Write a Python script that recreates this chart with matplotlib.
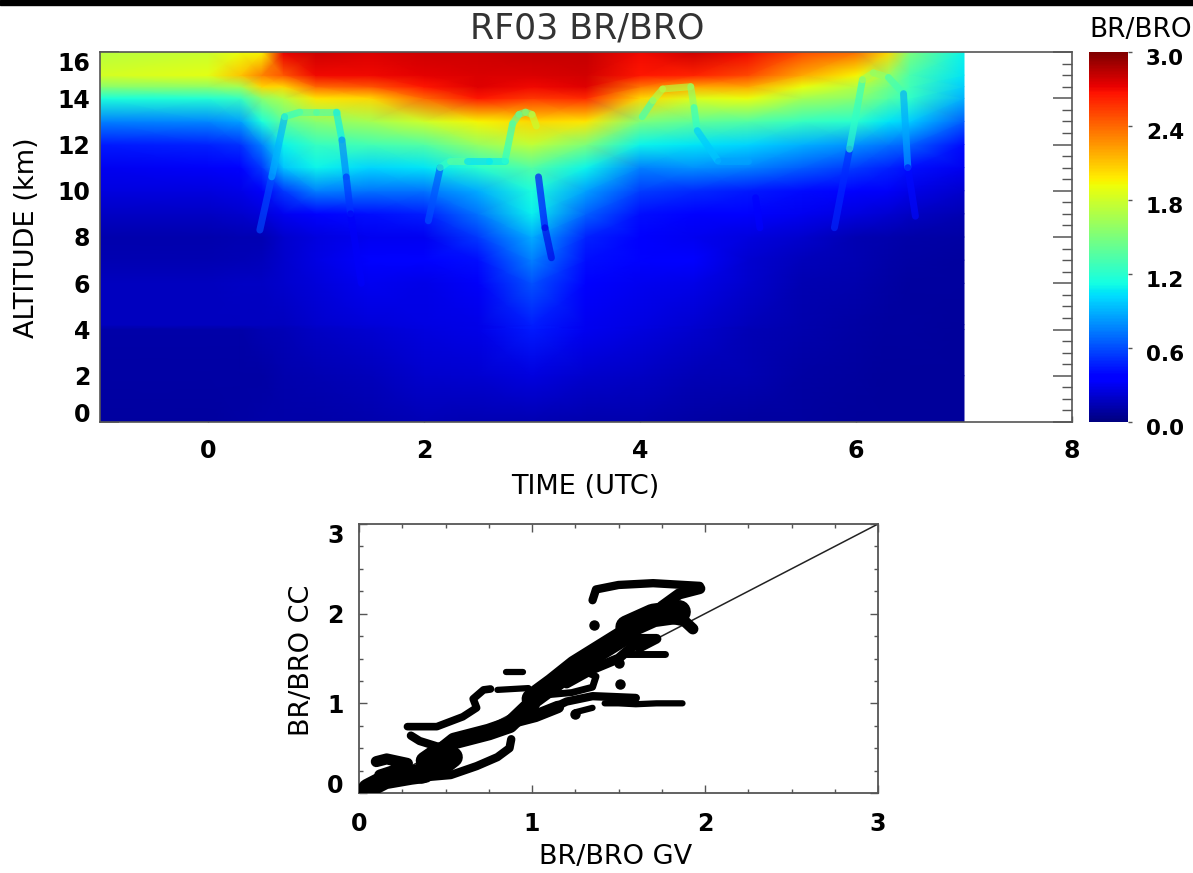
import numpy as np
import matplotlib
matplotlib.use("Agg")
import matplotlib.pyplot as plt
from matplotlib.collections import LineCollection
from matplotlib.patches import Rectangle
from matplotlib.transforms import ScaledTranslation

W, H = 1193, 873
GREY = "#555555"

# curtain values
times = [-1, 0, 0.3, 0.5, 0.7, 1, 1.5, 2, 2.5, 3, 3.5, 4, 4.5, 5, 5.5, 6, 6.3, 6.5, 7]
alts = [0, 2, 4, 4.2, 6, 7, 8, 9, 10, 11, 12, 13, 14, 14.5, 15, 16]

br0 = [.09, .09, .10, .11, .11, .11, .12, .15, .13, .13, .12, .12, .10, .09, .09, .08, .08, .08, .08]
br2 = [.10, .10, .10, .10, .12, .14, .16, .20, .22, .25, .20, .18, .15, .13, .10, .09, .08, .08, .08]
br4 = [.11, .11, .11, .13, .15, .18, .22, .25, .28, .45, .30, .25, .20, .15, .12, .10, .09, .09, .08]
br4b = [.17, .17, .17, .17, .17, .20, .24, .26, .28, .46, .30, .26, .22, .16, .12, .10, .09, .09, .08]
br6 = [.17, .17, .18, .18, .20, .24, .30, .27, .32, .62, .35, .30, .28, .20, .14, .12, .10, .09, .09]
br7 = [.14, .14, .15, .16, .20, .26, .38, .38, .42, .75, .42, .38, .36, .22, .16, .13, .11, .10, .09]
br8 = [.12, .12, .13, .14, .20, .25, .30, .30, .55, .88, .48, .33, .30, .25, .20, .13, .12, .11, .10]
br9 = [.18, .18, .20, .24, .30, .38, .42, .46, .72, 1.08, .66, .42, .36, .33, .30, .25, .22, .18, .14]
br10 = [.25, .25, .28, .32, .55, .75, .72, .72, .88, 1.15, .85, .56, .50, .45, .40, .35, .32, .28, .20]
br11 = [.30, .32, .38, .55, .95, 1.10, 1.00, 1.05, 1.20, 1.35, 1.10, .76, .80, .75, .65, .55, .48, .42, .30]
br12 = [.45, .48, .52, .75, 1.10, 1.25, 1.30, 1.35, 1.60, 1.75, 1.50, 1.10, 1.05, 1.00, .90, .80, .72, .66, .40]
br13 = [.75, .78, .85, 1.15, 1.40, 1.55, 1.65, 1.80, 1.95, 2.05, 2.00, 1.50, 1.40, 1.35, 1.25, 1.20, 1.05, .98, .65]
br14 = [1.15, 1.18, 1.25, 1.55, 1.70, 2.00, 2.05, 2.40, 2.65, 2.55, 2.60, 2.05, 1.85, 1.90, 1.65, 1.55, 1.35, 1.22, .90]
br145 = [1.55, 1.58, 1.65, 2.05, 2.05, 2.40, 2.45, 2.65, 2.75, 2.70, 2.75, 2.35, 2.20, 2.20, 1.90, 1.70, 1.45, 1.28, .98]
br15 = [1.82, 1.88, 2.10, 2.32, 2.45, 2.70, 2.70, 2.74, 2.76, 2.76, 2.78, 2.65, 2.62, 2.50, 2.20, 1.95, 1.60, 1.32, 1.05]
br16 = [1.72, 1.78, 1.90, 1.95, 2.72, 2.80, 2.76, 2.80, 2.80, 2.82, 2.82, 2.70, 2.80, 2.70, 2.50, 2.38, 2.05, 1.50, 1.10]

# aircraft legs on top of the curtain
leg1_t = [0.48, 0.59, 0.71, 0.85, 1.0, 1.19, 1.24, 1.28, 1.32, 1.42]
leg1_z = [8.3, 10.6, 13.2, 13.4, 13.4, 13.4, 12.2, 10.6, 9.0, 6.0]
leg1_v = [.50, .70, 1.10, 1.32, 1.40, 1.25, .90, .62, .42, .22]
leg2_t = [2.04, 2.15, 2.24, 2.4, 2.6, 2.75, 2.82, 2.88, 2.94, 3.0, 3.04]
leg2_z = [8.7, 11.0, 11.3, 11.3, 11.3, 11.3, 12.9, 13.3, 13.4, 13.3, 12.8]
leg2_v = [.50, .72, 1.75, 1.00, 1.05, 1.10, 1.30, 1.40, 1.45, 1.60, 1.90]
leg3_t = [3.06, 3.12, 3.18]
leg3_z = [10.6, 8.4, 7.1]
leg3_v = [.42, .28, .24]
leg4_t = [4.02, 4.12, 4.21, 4.47, 4.50, 4.53, 4.72, 5.0]
leg4_z = [13.2, 13.9, 14.4, 14.5, 13.6, 12.6, 11.3, 11.3]
leg4_v = [1.00, 1.60, 1.72, 1.72, 1.40, 1.05, .88, .85]
leg4b_t = [5.07, 5.11]
leg4b_z = [9.7, 8.4]
leg4b_v = [.42, .32]
leg5_t = [5.80, 5.94, 6.06, 6.16, 6.30, 6.44, 6.48, 6.55]
leg5_z = [8.4, 11.8, 14.8, 15.1, 14.9, 14.2, 11.0, 8.9]
leg5_v = [.18, .82, 1.62, 1.68, 1.45, 1.15, .60, .20]
legs = [(leg1_t, leg1_z, leg1_v), (leg2_t, leg2_z, leg2_v), (leg3_t, leg3_z, leg3_v),
        (leg4_t, leg4_z, leg4_v), (leg4b_t, leg4b_z, leg4b_v), (leg5_t, leg5_z, leg5_v)]

# scatter panel, traced band by band (x, y, line width)
diag_x = [0.42, 0.55, 0.75, 0.87, 1.0]
diag_y = [0.38, 0.58, 0.68, 0.76, 1.0]
diag2_x = [1.0, 1.12, 1.25, 1.4, 1.55]
diag2_y = [1.05, 1.22, 1.42, 1.60, 1.78]
diag3_x = [1.55, 1.7, 1.85]
diag3_y = [1.85, 1.98, 2.02]
low_x = [0.35, 0.53, 0.68, 0.80, 0.87, 0.88]
low_y = [0.17, 0.20, 0.30, 0.40, 0.50, 0.60]
blob_x = [0.36, 0.42, 0.50, 0.54]
blob_y = [0.22, 0.30, 0.34, 0.40]
blob2_x = [0.38, 0.44, 0.52]
blob2_y = [0.36, 0.44, 0.50]
base_x = [0.05, 0.15, 0.30, 0.38]
base_y = [0.05, 0.15, 0.20, 0.22]
foot_x = [0.10, 0.16, 0.28, 0.20, 0.12]
foot_y = [0.35, 0.38, 0.33, 0.25, 0.20]
arm_x = [0.28, 0.45, 0.6, 0.68, 0.66, 0.72, 0.76]
arm_y = [0.74, 0.74, 0.85, 0.95, 1.05, 1.15, 1.16]
arm_in_x = [0.30, 0.35, 0.45, 0.5]
arm_in_y = [0.64, 0.58, 0.52, 0.48]
step1_x = [0.80, 0.98]
step1_y = [1.15, 1.17]
step2_x = [0.85, 0.95]
step2_y = [1.35, 1.35]
top_x = [1.35, 1.37, 1.5, 1.7, 1.97]
top_y = [2.15, 2.27, 2.32, 2.34, 2.31]
top_in_x = [1.75, 1.85, 1.97]
top_in_y = [2.08, 2.22, 2.28]
right_x = [1.80, 1.88, 1.93]
right_y = [1.95, 1.92, 1.83]
shelf_x = [1.55, 1.77]
shelf_y = [1.55, 1.55]
shelf2_x = [1.60, 1.72, 1.62]
shelf2_y = [1.72, 1.72, 1.62]
lower_x = [1.20, 1.35, 1.50, 1.62]
lower_y = [1.22, 1.38, 1.50, 1.70]
under_x = [1.1, 1.2, 1.35, 1.6]
under_y = [0.93, 1.02, 1.08, 1.06]
under2_x = [0.90, 1.02, 1.15]
under2_y = [0.80, 0.86, 0.96]
loop_x = [1.0, 1.23, 1.35, 1.37, 1.30, 1.22]
loop_y = [1.08, 1.12, 1.18, 1.30, 1.36, 1.38]
tail_x = [1.42, 1.50, 1.60, 1.72, 1.87]
tail_y = [1.00, 1.00, 0.99, 1.00, 1.00]
foot2_x = [1.25, 1.35]
foot2_y = [0.90, 0.95]
dots_x = [1.36, 1.50, 1.51, 1.25]
dots_y = [1.87, 1.45, 1.22, 0.88]
bands = [(diag_x, diag_y, 12), (diag2_x, diag2_y, 15), (diag3_x, diag3_y, 17), (low_x, low_y, 6),
         (blob_x, blob_y, 15), (blob2_x, blob2_y, 13), (base_x, base_y, 14), (foot_x, foot_y, 8),
         (arm_x, arm_y, 5.5), (arm_in_x, arm_in_y, 6), (step1_x, step1_y, 4.5), (step2_x, step2_y, 4.5),
         (top_x, top_y, 6), (top_in_x, top_in_y, 8), (right_x, right_y, 8), (shelf_x, shelf_y, 5),
         (shelf2_x, shelf2_y, 7), (lower_x, lower_y, 7), (under_x, under_y, 6), (under2_x, under2_y, 9),
         (loop_x, loop_y, 5), (tail_x, tail_y, 4.5), (foot2_x, foot2_y, 4.5)]


def add_axes_px(fig, left, top, right, bottom):
    return fig.add_axes([left / W, 1 - bottom / H, (right - left) / W, (bottom - top) / H])


fig = plt.figure(figsize=(W / 100, H / 100), dpi=100)
fig.add_artist(Rectangle((0, 1 - 5 / H), 1, 5 / H, transform=fig.transFigure, color="black"))

# curtain
ax = add_axes_px(fig, 100, 52, 1072, 422)
curtain = np.array([br0, br2, br4, br4b, br6, br7, br8, br9, br10, br11, br12, br13, br14, br145, br15, br16])
T, Z = np.meshgrid(times, alts)
mesh = ax.pcolormesh(T, Z, curtain, shading="gouraud", cmap="jet", vmin=0, vmax=3, zorder=1)

# legs are faint in the reference, so let the curtain show through
for t, z, v in legs:
    pts = np.column_stack([t, z])
    segs = np.stack([pts[:-1], pts[1:]], axis=1)
    lc = LineCollection(segs, cmap="jet", norm=mesh.norm, linewidths=5, capstyle="round", alpha=0.65, zorder=2)
    lc.set_array((np.array(v[:-1]) + np.array(v[1:])) / 2)
    ax.add_collection(lc)

ax.set_xlim(-1, 8)
ax.set_ylim(0, 16)
ax.set_axisbelow(True)
ax.set_xticks([0, 2, 4, 6, 8])
ax.set_yticks(np.arange(0, 17, 2))
ax.set_yticks(np.arange(0, 16.5, 0.5), minor=True)
ax.tick_params(axis="x", direction="in", length=4, width=1, color=GREY, pad=12, labelsize=17)
ax.tick_params(axis="y", which="major", direction="in", length=13.5, width=1.1, color=GREY,
               left=True, right=True, pad=7, labelsize=17)
ax.tick_params(axis="y", which="minor", direction="in", length=7, width=1, color=GREY, left=True, right=True)
for lab in ax.get_xticklabels() + ax.get_yticklabels():
    lab.set_fontweight("bold")
ax.get_yticklabels()[0].set_va("baseline")
ax.get_yticklabels()[-1].set_va("top")
for s in ax.spines.values():
    s.set_color(GREY)
    s.set_linewidth(1.2)

# colourbar
cax = add_axes_px(fig, 1089, 52, 1128, 422)
cb = fig.colorbar(mesh, cax=cax, ticks=[0, 0.6, 1.2, 1.8, 2.4, 3.0])
cb.outline.set_visible(False)
cb.ax.set_yticklabels(["0.0", "0.6", "1.2", "1.8", "2.4", "3.0"])
cax.tick_params(axis="y", length=3, width=1, color=GREY, pad=10, labelsize=15.5)
shift = ScaledTranslation(0, -5 / 100, fig.dpi_scale_trans)
for lab in cax.get_yticklabels():
    lab.set_fontweight("bold")
    lab.set_transform(lab.get_transform() + shift)

# scatter
ax2 = add_axes_px(fig, 359, 524, 878, 793)
ax2.plot([0, 3], [0, 3], color="#222222", lw=1.1, zorder=2)
for bx, by, lw in bands:
    ax2.plot(bx, by, color="black", lw=lw, solid_capstyle="round", solid_joinstyle="round", zorder=3)
ax2.plot(dots_x, dots_y, "o", color="black", ms=6.5, zorder=3)
ax2.set_xlim(0, 3)
ax2.set_ylim(0, 3)
ax2.set_xticks([0, 1, 2, 3])
ax2.set_yticks([0, 1, 2, 3])
ax2.set_xticks(np.arange(0, 3.01, 0.25), minor=True)
ax2.set_yticks(np.arange(0, 3.01, 0.25), minor=True)
ax2.tick_params(which="major", direction="in", length=6, width=1, color=GREY, top=True, right=True,
                labelsize=17)
ax2.tick_params(which="minor", direction="in", length=3, width=1, color=GREY, top=True, right=True)
ax2.tick_params(axis="x", pad=14)
ax2.tick_params(axis="y", pad=11)
for lab in ax2.get_xticklabels() + ax2.get_yticklabels():
    lab.set_fontweight("bold")
ax2.get_yticklabels()[0].set_va("baseline")
ax2.get_yticklabels()[-1].set_va("top")
for s in ax2.spines.values():
    s.set_color(GREY)
    s.set_linewidth(1.3)


def label(x, y, text, size, rotation=0, color="black", ha="center"):
    fig.text(x / W, 1 - y / H, text, fontsize=size, rotation=rotation, ha=ha, va="center", color=color)


label(587, 29, "RF03 BR/BRO", 25, color="#333333")
label(1089, 30, "BR/BRO", 19, ha="left")
label(585, 487, "TIME (UTC)", 19.5)
label(27, 238, "ALTITUDE (km)", 19.5, rotation=90)
label(616, 857, "BR/BRO GV", 19.5)
label(302, 660, "BR/BRO CC", 19.5, rotation=90)

fig.savefig("out.png", dpi=100)
